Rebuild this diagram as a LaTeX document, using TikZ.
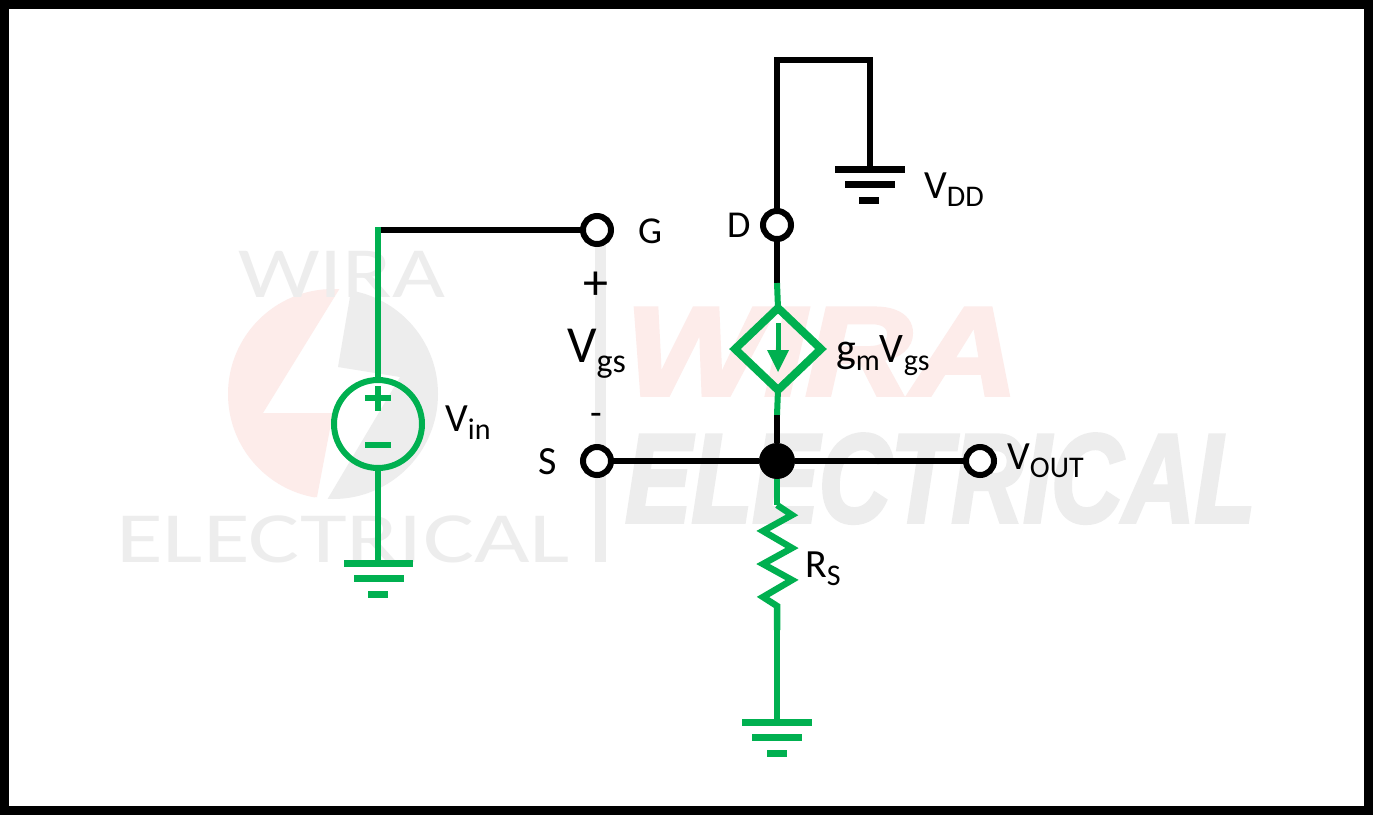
\documentclass[tikz,border=0pt]{standalone}
\usepackage{fontspec}
\setmainfont{Carlito}
\newfontfamily\wmfont[BoldItalicFeatures={FakeBold=3}]{Liberation Sans}
\usetikzlibrary{shapes.geometric,arrows.meta}
\definecolor{cgreen}{HTML}{00B050}
\definecolor{wmgray}{HTML}{EDEDED}
\definecolor{wmpink}{HTML}{FDECEA}
\newcommand{\fs}[1]{\fontsize{#1}{#1}\selectfont}
\newcommand{\lab}[5]{{\fs{#1}#3\raisebox{-0.2em}{\fs{#2}#4}#5}}
\tikzset{
 x=1pt,y=-1pt,
 bk/.style={line width=6pt,black},
 gn/.style={line width=5.5pt,cgreen},
 term/.style={circle,draw=black,line width=6pt,fill=white,minimum size=28pt,inner sep=0pt,outer sep=0pt},
 dot/.style={circle,fill=black,minimum size=36pt,inner sep=0pt,outer sep=0pt},
 gnd/.style={line width=7pt},
 txt/.style={anchor=base west,inner sep=0pt,text=black},
 wm/.style={inner sep=0pt,anchor=base west},
}
\begin{document}
\begin{tikzpicture}
\useasboundingbox (0,0) rectangle (1373,815);
\fill[white] (0,0) rectangle (1373,815);
% watermark logo
\begin{scope}
\clip (333,394) circle[radius=105];
\fill[wmpink] (340,288) -- (263,413) -- (333,413) -- (317,497) -- (200,510) -- (200,270) -- (351,270) -- cycle;
\fill[wmgray] (352,285) -- (338,367) -- (400,377) -- (327,500) -- (450,510) -- (450,285) -- cycle;
\end{scope}
\node[wm,text=wmgray,xscale=1.27] (wa) at (238,297) {\fs{72}WIRA};
\node[wm,text=wmgray,xscale=1.33] (wb) at (116,562) {\fs{72}ELECTRICAL};
\fill[wmgray] (595,240) rectangle (606,562);
\node[wm,text=wmpink,xscale=1.17] (wc) at (625,395) {\wmfont\fs{126}\bfseries\itshape WIRA};
\node[wm,text=wmgray,xscale=0.79] (wd) at (625,522) {\wmfont\fs{126}\bfseries\itshape ELECTRICAL};
% nodes
\node[term] (G) at (597,230) {};
\node[term] (D) at (777,225) {};
\node[term] (S) at (597,461) {};
\node[term] (O) at (980,461) {};
\node[dot] (J) at (777,461) {};
\node[circle,draw=cgreen,line width=6pt,minimum size=88pt,inner sep=0pt,outer sep=0pt] (V) at (378,424) {};
\node[diamond,draw=cgreen,line width=8pt,minimum width=86pt,minimum height=82pt,inner sep=0pt,outer sep=0pt] (C) at (778,349) {};
% coordinates
\coordinate (GA) at (378,230);
\coordinate (GB) at (378,227);
\coordinate (g1) at (378,563);
\coordinate (g2) at (870,169);
\coordinate (g3) at (777,722);
\coordinate (t1) at (777,60);
\coordinate (t2) at (870,60);
\coordinate (d1) at (777,283);
\coordinate (c1) at (777,415);
\coordinate (r0) at (777,505);
\coordinate (r1) at (777,630);
% wires
\draw[bk] (G.west) -- (GA);
\draw[gn] (V.north) -- (GB);
\draw[gn] (V.south) -- (g1);
\draw[bk,line join=miter] (D.north) -- (t1) -- (t2) -- (g2);
\draw[bk] (D.south) -- (d1);
\draw[gn,line width=6pt] (d1) -- (C.north);
\draw[gn,line width=6pt] (C.south) -- (c1);
\draw[bk] (c1) -- (J.north);
\draw[bk] (S.east) -- (J.west);
\draw[bk] (J.east) -- (O.west);
\draw[gn,line width=6.5pt] (J.south) -- (r0);
\draw[cgreen,line width=6.5pt,line join=miter] (r0) -- (792,515) -- (763,531) -- (792,548) -- (763,564) -- (792,580) -- (763,597) -- (777,606) -- (r1);
\draw[gn] (r1) -- (g3);
% grounds
\draw[gnd,cgreen] (344,563) -- (413,563) (354,578) -- (404,578) (368,594) -- (388,594);
\draw[gnd,black] (835,169) -- (905,169) (845,184) -- (895,184) (859,200) -- (879,200);
\draw[gnd,cgreen] (742,722) -- (812,722) (752,737) -- (802,737) (767,753) -- (787,753);
% source signs
\draw[cgreen,line width=5.5pt] (365,398) -- (391,398) (378,386) -- (378,411) (365,445) -- (391,445);
% dependent source arrow
\draw[cgreen,line width=5pt] (778,323) -- (778,352);
\fill[cgreen] (767,350) -- (789,350) -- (778,372) -- cycle;
% labels
\node[txt] (lG) at (638,243) {\fs{38}G};
\node[txt] (lD) at (727,237) {\fs{38}D};
\node[txt] (lS) at (538,474) {\fs{40}S};
\node[txt] (lp) at (583,299) {\fs{50}+};
\node[txt] (lm) at (590,425) {\fs{38}-};
\node[txt] (lgs) at (567,362) {\lab{52}{34}{V}{gs}{}};
\node[txt] (lin) at (445,431) {\lab{40}{30}{V}{in}{}};
\node[txt,align=left] (lgm) at (836,362) {\lab{42}{30}{g}{m}{}\lab{42}{30}{V}{gs}{}};
\node[txt] (lo) at (1007,469) {\lab{40}{30}{V}{OUT}{}};
\node[txt] (lr) at (805,577) {\lab{40}{30}{R}{S}{}};
\node[txt] (ld) at (924,198) {\lab{40}{30}{V}{DD}{}};
% frame
\draw[black,line width=9pt] (4.5,4.5) rectangle (1368.5,810.5);
\end{tikzpicture}
\end{document}
